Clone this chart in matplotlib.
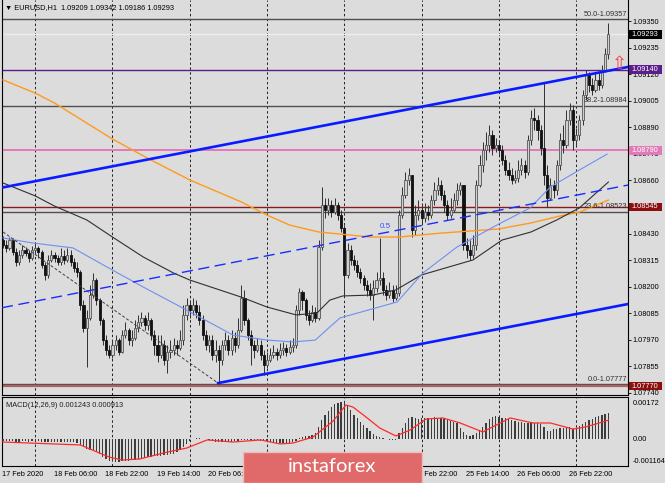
import numpy as np
import matplotlib
matplotlib.use('Agg')
import matplotlib.pyplot as plt
import matplotlib.transforms as mtransforms
from matplotlib.patches import Rectangle

plt.rcParams['font.family'] = ['Liberation Sans', 'DejaVu Sans']

# EURUSD H1, bars from 17 Feb 14:00 to 27 Feb 10:00
first_open = 1.08402
close = [
    1.08381, 1.08368, 1.08402, 1.08350, 1.08307, 1.08337, 1.08359, 1.08346, 1.08324, 1.08359,
    1.08368, 1.08350, 1.08294, 1.08251, 1.08316, 1.08337, 1.08324, 1.08307, 1.08333, 1.08316,
    1.08337, 1.08307, 1.08281, 1.08264, 1.08121, 1.08021, 1.08065, 1.08164, 1.08229, 1.08142,
    1.08056, 1.07969, 1.07926, 1.07905, 1.07948, 1.07969, 1.07917, 1.07991, 1.08013, 1.07969,
    1.07978, 1.08021, 1.08047, 1.08065, 1.08034, 1.08056, 1.07991, 1.07948, 1.07905, 1.07948,
    1.07883, 1.07917, 1.07926, 1.07948, 1.07935, 1.07969, 1.08078, 1.08121, 1.08099, 1.08121,
    1.08091, 1.08056, 1.07991, 1.07948, 1.07969, 1.07905, 1.07926, 1.07883, 1.07948, 1.07969,
    1.07926, 1.07978, 1.07948, 1.08013, 1.08151, 1.08056, 1.07991, 1.07948, 1.07926, 1.07948,
    1.07905, 1.07861, 1.07883, 1.07905, 1.07917, 1.07905, 1.07926, 1.07935, 1.07917, 1.07939,
    1.07948, 1.08099, 1.08177, 1.08142, 1.08078, 1.08056, 1.08091, 1.08065, 1.08372, 1.08554,
    1.08532, 1.08554, 1.08523, 1.08554, 1.08510, 1.08454, 1.08251, 1.08359, 1.08316, 1.08294,
    1.08264, 1.08238, 1.08207, 1.08186, 1.08164, 1.08194, 1.08229, 1.08238, 1.08186, 1.08164,
    1.08186, 1.08151, 1.08173, 1.08510, 1.08597, 1.08662, 1.08684, 1.08445, 1.08510, 1.08532,
    1.08497, 1.08523, 1.08510, 1.08575, 1.08619, 1.08640, 1.08597, 1.08554, 1.08510, 1.08532,
    1.08575, 1.08619, 1.08640, 1.08381, 1.08359, 1.08337, 1.08381, 1.08640, 1.08727, 1.08792,
    1.08814, 1.08857, 1.08801, 1.08814, 1.08792, 1.08748, 1.08705, 1.08684, 1.08662, 1.08671,
    1.08705, 1.08727, 1.08697, 1.08835, 1.08930, 1.08922, 1.08878, 1.08801, 1.08684, 1.08584,
    1.08640, 1.08619, 1.08727, 1.08835, 1.08814, 1.08922, 1.08965, 1.08835, 1.08857, 1.08922,
    1.09030, 1.09116, 1.09073, 1.09051, 1.09095, 1.09073, 1.09138, 1.09209, 1.09293,
]
high = [
    1.08420, 1.08402, 1.08415, 1.08411, 1.08368, 1.08359, 1.08381, 1.08372, 1.08359, 1.08376,
    1.08394, 1.08376, 1.08359, 1.08307, 1.08337, 1.08359, 1.08350, 1.08337, 1.08368, 1.08359,
    1.08368, 1.08359, 1.08324, 1.08307, 1.08272, 1.08142, 1.08099, 1.08207, 1.08259, 1.08238,
    1.08151, 1.08065, 1.07991, 1.07948, 1.07969, 1.07991, 1.07978, 1.08013, 1.08047, 1.08021,
    1.08013, 1.08056, 1.08078, 1.08091, 1.08078, 1.08091, 1.08065, 1.08013, 1.07991, 1.07991,
    1.07969, 1.07948, 1.07969, 1.07978, 1.07969, 1.08013, 1.08121, 1.08151, 1.08142, 1.08151,
    1.08142, 1.08121, 1.08078, 1.08013, 1.07991, 1.07991, 1.07969, 1.07948, 1.07969, 1.08004,
    1.07991, 1.08013, 1.08004, 1.08065, 1.08207, 1.08186, 1.08065, 1.08013, 1.07969, 1.07978,
    1.07969, 1.07926, 1.07917, 1.07935, 1.07948, 1.07935, 1.07956, 1.07961, 1.07952, 1.07969,
    1.07978, 1.08121, 1.08194, 1.08186, 1.08151, 1.08099, 1.08121, 1.08112, 1.08402, 1.08632,
    1.08584, 1.08584, 1.08575, 1.08584, 1.08567, 1.08532, 1.08467, 1.08389, 1.08381, 1.08337,
    1.08316, 1.08281, 1.08251, 1.08229, 1.08216, 1.08229, 1.08264, 1.08411, 1.08264, 1.08207,
    1.08220, 1.08207, 1.08207, 1.08532, 1.08632, 1.08697, 1.08714, 1.08684, 1.08554, 1.08575,
    1.08554, 1.08563, 1.08554, 1.08597, 1.08653, 1.08675, 1.08662, 1.08619, 1.08575, 1.08584,
    1.08606, 1.08649, 1.08653, 1.08640, 1.08411, 1.08402, 1.08424, 1.08662, 1.08770, 1.08826,
    1.08870, 1.08900, 1.08878, 1.08844, 1.08835, 1.08814, 1.08770, 1.08740, 1.08714, 1.08705,
    1.08748, 1.08757, 1.08748, 1.08857, 1.08965, 1.08974, 1.08943, 1.08900, 1.09082, 1.08727,
    1.08671, 1.08662, 1.08748, 1.08865, 1.08900, 1.08965, 1.08995, 1.08987, 1.08887, 1.08943,
    1.09051, 1.09138, 1.09129, 1.09103, 1.09125, 1.09129, 1.09160, 1.09233, 1.09342,
]
low = [
    1.08368, 1.08350, 1.08359, 1.08337, 1.08290, 1.08294, 1.08324, 1.08333, 1.08307, 1.08316,
    1.08346, 1.08324, 1.08281, 1.08229, 1.08238, 1.08307, 1.08307, 1.08294, 1.08294, 1.08298,
    1.08307, 1.08290, 1.08264, 1.08242, 1.08099, 1.08004, 1.07852, 1.08056, 1.08151, 1.08121,
    1.08034, 1.07948, 1.07905, 1.07892, 1.07892, 1.07926, 1.07905, 1.07913, 1.07978, 1.07948,
    1.07944, 1.07969, 1.08004, 1.08030, 1.08013, 1.08013, 1.07969, 1.07905, 1.07874, 1.07892,
    1.07861, 1.07826, 1.07892, 1.07905, 1.07905, 1.07926, 1.07948, 1.08056, 1.08065, 1.08078,
    1.08065, 1.08034, 1.07969, 1.07926, 1.07917, 1.07883, 1.07874, 1.07777, 1.07861, 1.07926,
    1.07905, 1.07905, 1.07917, 1.07935, 1.08004, 1.08034, 1.07969, 1.07861, 1.07892, 1.07917,
    1.07883, 1.07818, 1.07848, 1.07874, 1.07892, 1.07883, 1.07892, 1.07905, 1.07900, 1.07909,
    1.07917, 1.07935, 1.08078, 1.08099, 1.08056, 1.08034, 1.08047, 1.08047, 1.08056, 1.08359,
    1.08497, 1.08510, 1.08502, 1.08515, 1.08489, 1.08437, 1.08155, 1.08238, 1.08294, 1.08272,
    1.08242, 1.08216, 1.08186, 1.08160, 1.08142, 1.08056, 1.08177, 1.08207, 1.08164, 1.08142,
    1.08151, 1.08134, 1.08142, 1.08160, 1.08497, 1.08584, 1.08640, 1.08415, 1.08424, 1.08489,
    1.08476, 1.08480, 1.08489, 1.08497, 1.08554, 1.08597, 1.08575, 1.08523, 1.08489, 1.08497,
    1.08523, 1.08554, 1.08597, 1.08359, 1.08324, 1.08316, 1.08324, 1.08359, 1.08630, 1.08697,
    1.08748, 1.08783, 1.08770, 1.08783, 1.08770, 1.08727, 1.08684, 1.08662, 1.08645, 1.08649,
    1.08653, 1.08684, 1.08671, 1.08684, 1.08814, 1.08878, 1.08835, 1.08770, 1.08640, 1.08545,
    1.08575, 1.08584, 1.08597, 1.08705, 1.08779, 1.08801, 1.08900, 1.08792, 1.08814, 1.08835,
    1.08900, 1.09008, 1.09043, 1.09030, 1.09043, 1.09051, 1.09060, 1.09129, 1.09186,
]

# moving averages (bar index, price)
ma_orange_x = [0, 10, 16, 34, 46, 58, 74, 82, 89, 98, 114, 123, 136, 154, 164, 173, 179, 188]
ma_orange = [1.09095, 1.09038, 1.08995, 1.08839, 1.08748, 1.08662, 1.08567, 1.08510, 1.08467,
             1.08437, 1.08415, 1.08415, 1.08432, 1.08450, 1.08476, 1.08506, 1.08523, 1.08575]
ma_black_x = [0, 10, 16, 26, 34, 43.5, 53, 58, 74, 82, 91, 97.5, 101.5, 105.5, 115, 122, 130,
              146, 155, 164, 172, 179, 188]
ma_black = [1.08649, 1.08593, 1.08549, 1.08489, 1.08415, 1.08329, 1.08259, 1.08229, 1.08155,
            1.08112, 1.08078, 1.08086, 1.08142, 1.08160, 1.08164, 1.08186, 1.08251, 1.08316,
            1.08402, 1.08437, 1.08489, 1.08541, 1.08653]
ma_blue_x = [0, 9.3, 21.7, 34, 43.5, 57, 71.4, 82, 90, 97, 101.5, 104.7, 122.4, 130.4, 141,
             153.4, 163.7, 170, 179, 187.6]
ma_blue = [1.08411, 1.08389, 1.08368, 1.08272, 1.08199, 1.08099, 1.07991, 1.07969, 1.07961,
           1.07969, 1.08026, 1.08065, 1.08134, 1.08259, 1.08372, 1.08467, 1.08541, 1.08632,
           1.08705, 1.08774]

# channel lines
upper_x, upper_y = [-0.31, 194.1], [1.08629, 1.09151]
mid_x, mid_y = [-0.31, 194.1], [1.08109, 1.08640]
lower_x, lower_y = [66.8, 194.1], [1.07783, 1.08125]
dotted_x, dotted_y = [0, 66.8], [1.08437, 1.07783]

fib_levels = [1.09357, 1.08984, 1.08523, 1.07777]
fib_labels = ['50.0-1.09357', '38.2-1.08984', '23.6-1.08523', '0.0-1.07777']
price_boxes = [1.09293, 1.09140, 1.08790, 1.08545, 1.07770]
box_colors = ['#000000', '#5b1f8c', '#e27ab8', '#8b0f0f', '#8b0f0f']

price_ticks = [1.09350, 1.09235, 1.09120, 1.09005, 1.08890, 1.08775, 1.08660, 1.08545,
               1.08430, 1.08315, 1.08200, 1.08085, 1.07970, 1.07855, 1.07740]

macd_hist = [
    -0.00008, -0.00008, -0.00010, -0.00010, -0.00012, -0.00012, -0.00010, -0.00010, -0.00011, -0.00010,
    -0.00009, -0.00010, -0.00012, -0.00015, -0.00014, -0.00013, -0.00013, -0.00014, -0.00013, -0.00013,
    -0.00012, -0.00013, -0.00015, -0.00017, -0.00025, -0.00037, -0.00045, -0.00050, -0.00055, -0.00062,
    -0.00072, -0.00085, -0.00095, -0.00102, -0.00106, -0.00108, -0.00108, -0.00106, -0.00104, -0.00102,
    -0.00100, -0.00097, -0.00094, -0.00090, -0.00087, -0.00085, -0.00083, -0.00082, -0.00080, -0.00078,
    -0.00076, -0.00075, -0.00072, -0.00068, -0.00063,
    -0.00050, -0.00035, -0.00022, -0.00010, 0.00002, 0.00005, 0.00004, 0.00002, 0.00001, -0.00003,
    -0.00008, -0.00012, -0.00015, -0.00015, -0.00013, -0.00012, -0.00013, -0.00010, -0.00008, -0.00004,
    -0.00002, -0.00003, -0.00005, -0.00005, -0.00004, -0.00006, -0.00008, -0.00010,
    -0.00014, -0.00018, -0.00020, -0.00020, -0.00019, -0.00018, -0.00016, -0.00014, -0.00010,
    0.00005, 0.00010, 0.00014, 0.00018, 0.00022, 0.00030, 0.00059, 0.00090, 0.00115, 0.00135,
    0.00155, 0.00168, 0.00175, 0.00178, 0.00176,
    0.00164, 0.00140, 0.00116, 0.00100, 0.00085, 0.00068, 0.00055, 0.00040, 0.00025, 0.00015,
    0.00010, 0.00004, 0.00002,
    -0.00002, -0.00005, -0.00003, 0.00030, 0.00055, 0.00080, 0.00100, 0.00107, 0.00100, 0.00098, 0.00100,
    0.00100, 0.00102, 0.00104, 0.00105, 0.00104, 0.00100, 0.00097, 0.00092, 0.00088, 0.00082, 0.00076,
    0.00055, 0.00035, 0.00020, 0.00018, 0.00020, 0.00030, 0.00045, 0.00060, 0.00080, 0.00095,
    0.00105, 0.00110, 0.00108,
    0.00104, 0.00100, 0.00096, 0.00090, 0.00087, 0.00085, 0.00083, 0.00080, 0.00080, 0.00082,
    0.00080, 0.00078, 0.00075,
    0.00060, 0.00040, 0.00042, 0.00048, 0.00050, 0.00055, 0.00052, 0.00055, 0.00058, 0.00050,
    0.00055, 0.00065, 0.00075, 0.00085, 0.00092, 0.00098, 0.00105, 0.00110, 0.00115, 0.00120, 0.001243,
]
signal_x = [0, 24, 33, 37, 42.5, 51, 57, 63.4, 71.4, 80, 86, 90, 96.3, 102.5, 106.5, 108.7,
            112.7, 117, 122, 126.4, 131.4, 136.6, 142, 149, 152, 157.5, 164.6, 170, 177, 181, 188]
signal = [-0.00013, -0.00027, -0.00085, -0.00099, -0.00094, -0.00061, -0.00042, -0.00003,
          -0.00013, -0.00003, -0.00022, -0.00018, 0.00011, 0.00087, 0.00164, 0.00154, 0.00107,
          0.00054, 0.00016, 0.00044, 0.00097, 0.00102, 0.00078, 0.00035, 0.00059, 0.00102,
          0.00078, 0.00078, 0.00049, 0.00059, 0.000913]

day_starts = [10, 34, 58, 82, 106, 130, 154, 178]
# labels that are not hidden behind the watermark
time_ticks = [0, 16, 32, 48, 64, 128, 144, 160, 176]
time_labels = ['17 Feb 2020', '18 Feb 06:00', '18 Feb 22:00', '19 Feb 14:00', '20 Feb 06:00',
               '24 Feb 22:00', '25 Feb 14:00', '26 Feb 06:00', '26 Feb 22:00']

BG = '#dcdcdc'
FS = 5.3
W, H = 665, 483

fig = plt.figure(figsize=(6.65, 4.83), dpi=100, facecolor=BG)
ax = fig.add_axes([2 / W, 1 - 395 / H, 626 / W, 395 / H], facecolor=BG)
ax2 = fig.add_axes([2 / W, 1 - 466 / H, 626 / W, 69 / H], facecolor=BG)

# candles
idx = np.arange(len(close))
c = np.array(close)
o = np.array([first_open] + close[:-1])
hi = np.maximum(np.array(high), np.maximum(o, c))
lo = np.minimum(np.array(low), np.minimum(o, c))
up = c >= o
body_lo = np.minimum(o, c)
body_h = np.maximum(np.abs(c - o), 0.00002)
ax.vlines(idx, lo, hi, color='#303030', lw=0.7, zorder=3)
ax.bar(idx[up], body_h[up], width=0.66, bottom=body_lo[up], color='#cfcfcf',
       edgecolor='#555555', lw=0.6, zorder=4)
ax.bar(idx[~up], body_h[~up], width=0.66, bottom=body_lo[~up], color='#111111',
       edgecolor='#111111', lw=0.6, zorder=4)

# moving averages
ax.plot(ma_orange_x, ma_orange, color='#ff9a1e', lw=1.0, zorder=5)
ax.plot(ma_black_x, ma_black, color='#303030', lw=0.8, zorder=5)
ax.plot(ma_blue_x, ma_blue, color='#6f8ff0', lw=0.8, zorder=5)

# trend channel
ax.plot(upper_x, upper_y, color='#0a1cff', lw=1.9, zorder=6)
ax.plot(lower_x, lower_y, color='#0a1cff', lw=1.9, zorder=6)
ax.plot(mid_x, mid_y, color='#1a2cff', lw=1.0, ls=(0, (8, 4)), zorder=6)
ax.plot(dotted_x, dotted_y, color='#404040', lw=0.7, ls=(0, (3, 2)), zorder=6)
ax.text(117, 1.08460, '0.5', color='#3050ff', fontsize=FS + 0.5, ha='left', va='center', zorder=7)

# horizontal levels
ax.axhline(1.09293, color='#ececf4', lw=1.0, zorder=2)
for lvl in fib_levels:
    ax.axhline(lvl, color='#505050', lw=1.0, zorder=2)
ax.axhline(1.09140, color='#5b1f8c', lw=1.0, zorder=2)
ax.axhline(1.08790, color='#e27ab8', lw=1.4, zorder=2)
ax.axhline(1.08545, color='#8b1a1a', lw=1.0, zorder=2)
ax.axhline(1.07770, color='#b06060', lw=1.6, zorder=2)
for lvl, txt in zip(fib_levels, fib_labels):
    ax.text(193.8, lvl + 0.00008, txt, color='#303030', fontsize=FS, ha='right', va='bottom', zorder=7)

# day separators
for d in day_starts:
    ax.axvline(d, color='#202020', lw=0.7, ls=(0, (2.5, 2.5)), zorder=1)
    ax2.axvline(d, color='#202020', lw=0.7, ls=(0, (2.5, 2.5)), zorder=1)

ax.set_xlim(-0.31, 194.1)
ax.set_ylim(1.077313, 1.094409)
ax.set_xticks([])
ax.yaxis.tick_right()
ax.set_yticks(price_ticks)
ax.set_yticklabels(['' if p in price_boxes else '%.5f' % p for p in price_ticks])
ax.tick_params(axis='y', length=2, width=0.6, pad=1.5, labelsize=FS, colors='black')
for s in ['left', 'right', 'bottom']:
    ax.spines[s].set_color('black')
    ax.spines[s].set_linewidth(0.8)
ax.spines['top'].set_visible(False)

# price boxes on the axis
trans = mtransforms.blended_transform_factory(ax.transAxes, ax.transData)
for p, col in zip(price_boxes, box_colors):
    ax.add_patch(Rectangle((1.0016, p - 0.00019), 0.053, 0.00038, transform=trans,
                           facecolor=col, edgecolor='none', clip_on=False, zorder=8))
    ax.text(1.0062, p, '%.5f' % p, transform=trans, color='white', fontsize=FS,
            ha='left', va='center', clip_on=False, zorder=9)

ax.text(191.6, 1.09163, '\u21e7', color='#ff3a3a', fontsize=13, ha='center', va='center',
        family='DejaVu Sans', clip_on=False, zorder=9)

fig.text(5 / W, 1 - 8 / H, '\u25bc EURUSD,H1  1.09209 1.09342 1.09186 1.09293', fontsize=FS,
         ha='left', va='center', color='black', family=['Liberation Sans', 'DejaVu Sans'])

# MACD panel
ax2.bar(idx, macd_hist, width=0.4, color='#3c3c3c', zorder=3)
ax2.plot(signal_x, signal, color='#ff2a2a', lw=0.9, zorder=4)
ax2.set_xlim(-0.31, 194.1)
ax2.set_ylim(-0.001276, 0.002022)
ax2.set_xticks([])
ax2.set_yticks([])
for s in ax2.spines.values():
    s.set_color('black')
    s.set_linewidth(0.8)
ax2.text(0.007, 0.93, 'MACD(12,26,9) 0.001243 0.000913', transform=ax2.transAxes,
         fontsize=FS, ha='left', va='top', color='#202020')
t2 = mtransforms.blended_transform_factory(ax2.transAxes, ax2.transData)
ax2.text(1.008, 0.00172, '0.00172', transform=t2, fontsize=FS, va='center', ha='left')
ax2.text(1.008, 0.0, '0.00', transform=t2, fontsize=FS, va='center', ha='left')
ax2.text(1.008, 0.072, '-0.001164', transform=ax2.transAxes, fontsize=FS, va='center', ha='left')

tx = mtransforms.blended_transform_factory(ax2.transData, ax2.transAxes)
for t, lab in zip(time_ticks, time_labels):
    ax2.text(t - 0.3, -0.116, lab, transform=tx, fontsize=FS, ha='left', va='center', clip_on=False)

# watermark
fig.add_artist(Rectangle((243 / W, 0), 179 / W, 31 / H, transform=fig.transFigure,
                         facecolor='#e06a6a', edgecolor='#f4b8b8', lw=1.0, zorder=10))
fig.text(332 / W, 1 - 467 / H, 'instaforex', color='white', fontsize=14.5, family='Lato',
         ha='center', va='center', zorder=11)

fig.savefig('out.png', dpi=100, facecolor=BG)
